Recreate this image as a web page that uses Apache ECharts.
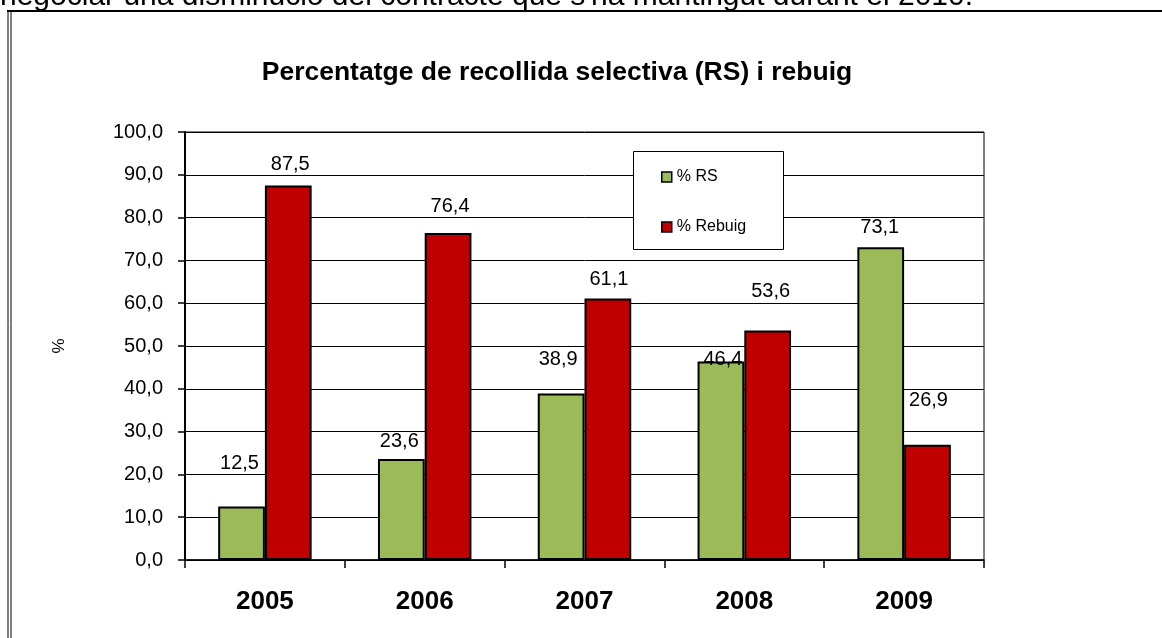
<!DOCTYPE html>
<html>
<head>
<meta charset="utf-8">
<script src="https://cdn.jsdelivr.net/npm/echarts@6/dist/echarts.min.js"></script>
<style>
html,body{margin:0;padding:0;background:#fff;}
#chart{width:1162px;height:638px;}
</style>
</head>
<body>
<div id="chart"></div>
<script>
const categories = ['2005', '2006', '2007', '2008', '2009'];
const rsValues = [12.5, 23.6, 38.9, 46.4, 73.1];
const rebuigValues = [87.5, 76.4, 61.1, 53.6, 26.9];
const seriesNames = ['% RS', '% Rebuig'];
const titleText = 'Percentatge de recollida selectiva (RS) i rebuig';
const headerText = "negociar una disminució del contracte que s'ha mantingut durant el 2010.";
const yAxisName = '%';

// label placement style (distance above bar top, horizontal shift)
const rsLabelStyle = [[33, -2], [8, -2], [24, -3], [-8, 2], [10, -1]];
const rebuigLabelStyle = [[11, 2], [17, 2], [9, 1], [29, 3], [34, 1]];

const fmt = v => v.toFixed(1).replace('.', ',');

function buildData(values, styles) {
  return values.map((v, i) => ({
    value: v,
    label: { distance: styles[i][0], offset: [styles[i][1], 0] }
  }));
}

const chart = echarts.init(document.getElementById('chart'));
const FONT = '"Liberation Sans", Arial, sans-serif';

const labelCommon = {
  show: true,
  position: 'top',
  color: '#000',
  fontFamily: FONT,
  fontSize: 20,
  formatter: p => fmt(p.value)
};

chart.setOption({
  animation: false,
  backgroundColor: '#fff',
  title: {
    text: titleText,
    left: 552,
    textAlign: 'center',
    top: 54,
    textStyle: { fontFamily: FONT, fontWeight: 'bold', fontSize: 26.5, color: '#000' }
  },
  graphic: [
    { type: 'text', left: 0, top: -18, style: { text: headerText, font: '30px "Liberation Sans", Arial, sans-serif', fill: '#000' } },
    { type: 'line', shape: { x1: 7, y1: 11, x2: 1162, y2: 11 }, style: { stroke: '#000', lineWidth: 2 } },
    { type: 'line', shape: { x1: 8, y1: 11, x2: 8, y2: 638 }, style: { stroke: '#000', lineWidth: 1 } },
    { type: 'line', shape: { x1: 11, y1: 11, x2: 11, y2: 638 }, style: { stroke: '#000', lineWidth: 1 } },
    { type: 'rect', z: 3, shape: { x: 633.5, y: 151.5, width: 150, height: 98 }, style: { fill: '#fff', stroke: '#000', lineWidth: 1 } }
  ],
  legend: {
    data: seriesNames,
    orient: 'vertical',
    left: 661,
    top: 169,
    padding: 0,
    itemGap: 34,
    itemWidth: 10,
    itemHeight: 10,
    icon: 'rect',
    itemStyle: { borderColor: '#000', borderWidth: 1.5 },
    textStyle: { fontFamily: FONT, fontSize: 16, color: '#000' }
  },
  grid: {
    left: 185, right: 178, top: 132, bottom: 78,
    show: true, borderColor: '#000', borderWidth: 1
  },
  xAxis: {
    type: 'category',
    data: categories,
    axisLine: { lineStyle: { color: '#000', width: 1.5 } },
    axisTick: { show: true, length: 8, lineStyle: { color: '#000', width: 1.5 } },
    axisLabel: { color: '#000', fontFamily: FONT, fontWeight: 'bold', fontSize: 26, margin: 29 }
  },
  yAxis: {
    type: 'value',
    min: 0, max: 100, interval: 10,
    name: yAxisName,
    nameLocation: 'middle',
    nameGap: 117,
    nameRotate: 90,
    nameTextStyle: { color: '#000', fontFamily: FONT, fontSize: 17 },
    axisLine: { show: true, lineStyle: { color: '#000', width: 2 } },
    axisTick: { show: true, length: 7, lineStyle: { color: '#000', width: 1.5 } },
    splitLine: { lineStyle: { color: '#000', width: 1 } },
    axisLabel: { color: '#000', fontFamily: FONT, fontSize: 20, margin: 22, formatter: v => fmt(v) }
  },
  series: [
    {
      name: seriesNames[0], type: 'bar',
      data: buildData(rsValues, rsLabelStyle),
      barGap: '0%', barCategoryGap: '41.5%',
      itemStyle: { color: '#9BBB59', borderColor: '#000', borderWidth: 2 },
      label: labelCommon
    },
    {
      name: seriesNames[1], type: 'bar',
      data: buildData(rebuigValues, rebuigLabelStyle),
      barGap: '0%', barCategoryGap: '41.5%',
      itemStyle: { color: '#C00000', borderColor: '#000', borderWidth: 2 },
      label: labelCommon
    }
  ]
});
</script>
</body>
</html>
